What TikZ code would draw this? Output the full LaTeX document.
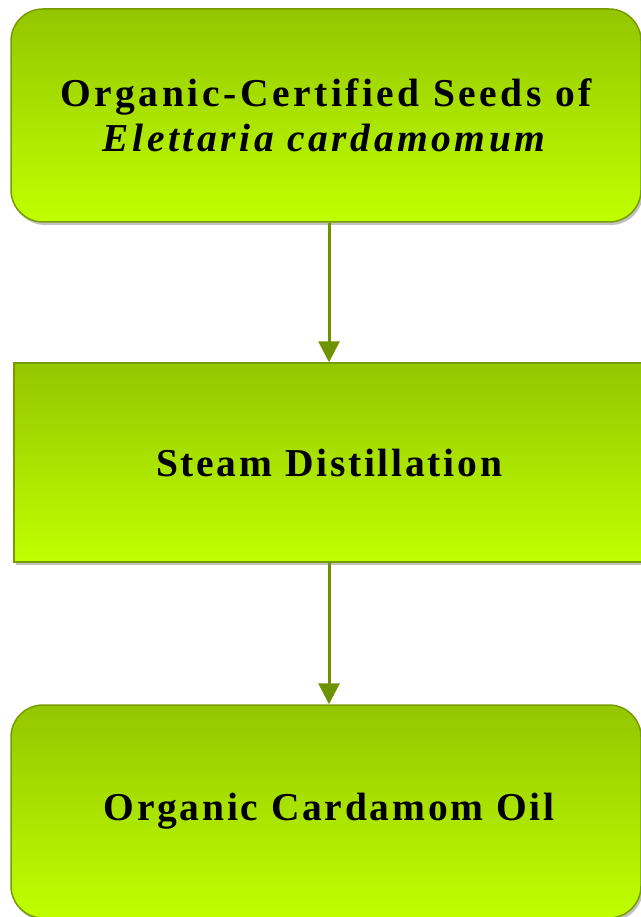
\documentclass[tikz,border=0pt]{standalone}
\usepackage{fontspec}
\setmainfont{Liberation Serif}[LetterSpace=9]
\usetikzlibrary{arrows.meta,shadows}
\definecolor{boxtop}{RGB}{148,198,0}
\definecolor{boxbot}{RGB}{192,255,0}
\definecolor{boxedge}{RGB}{118,156,0}
\definecolor{arrcol}{RGB}{110,146,0}
\tikzset{
  flowbox/.style={draw=boxedge, line width=1.5pt, top color=boxtop, bottom color=boxbot,
    minimum width=630pt, align=center, font=\fontsize{39.5}{45}\selectfont\bfseries,
    drop shadow={shadow xshift=2pt, shadow yshift=-3pt, opacity=0.35, fill=black!70}},
  roundbox/.style={flowbox, rounded corners=32pt},
  tighttext/.style={font=\fontsize{39.5}{45}\selectfont\bfseries\addfontfeature{LetterSpace=7}},
  arr/.style={draw=arrcol, line width=3pt, -{Triangle[length=21pt,width=21pt]}}
}
\begin{document}
\begin{tikzpicture}[x=1pt,y=-1pt]
\useasboundingbox (0,0) rectangle (640,917);
\node[roundbox, minimum height=213pt] (src) at (326,115.5) {Organic-Certified Seeds of\\\textit{Elettaria cardamomum}};
\node[flowbox, tighttext, minimum height=199pt] (dist) at (329,462.5) {Steam Distillation};
\node[roundbox, tighttext, minimum height=213pt] (oil) at (326,811.5) {\hspace{6pt}Organic Cardamom Oil};
\draw[arr] (src.south -| dist.north) -- (dist.north);
\draw[arr] (dist.south) -- (oil.north -| dist.south);
\end{tikzpicture}
\end{document}
